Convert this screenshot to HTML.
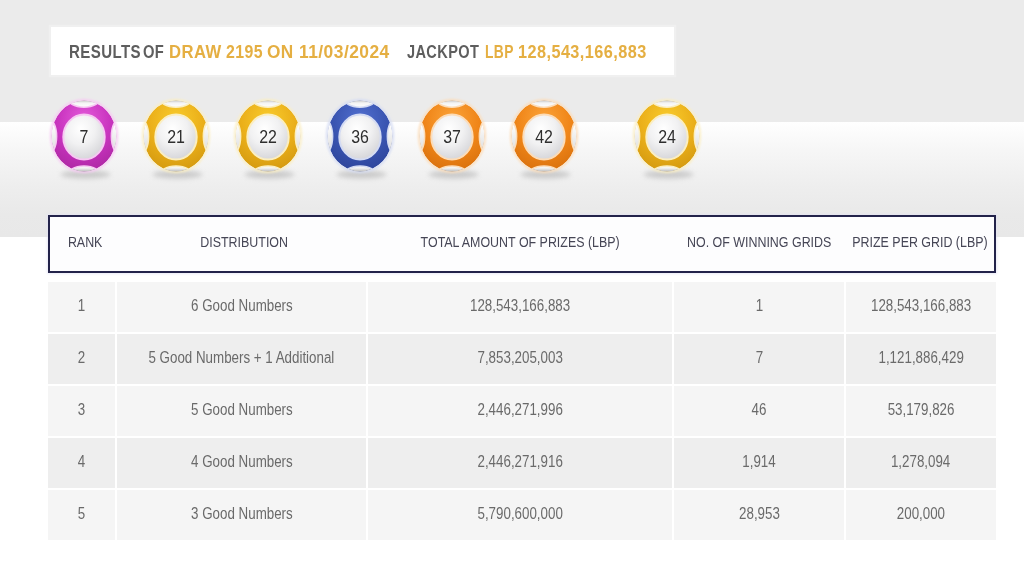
<!DOCTYPE html>
<html>
<head>
<meta charset="utf-8">
<style>
*{margin:0;padding:0;box-sizing:border-box}
html,body{width:1024px;height:576px;overflow:hidden;background:#fff;font-family:"Liberation Sans",Arial,sans-serif}
#top{position:absolute;left:0;top:0;width:1024px;height:122px;background:#ebebeb}
#band{position:absolute;left:0;top:122px;width:1024px;height:115px;background:linear-gradient(#ffffff,#f6f6f6 25%,#eeeeee 55%,#e9e9e9 80%,#e8e8e8)}
#title{position:absolute;left:51px;top:27px;width:623px;height:48px;background:#fff;box-shadow:0 0 1px 2px rgba(244,244,244,0.6)}
.t{position:absolute;top:32px;white-space:nowrap;letter-spacing:0.5px;font-weight:bold;font-size:19px;line-height:40px;transform-origin:0 0}
.g{color:#5e5e5e}
.o{color:#e5af42}
.ball{position:absolute;overflow:visible}
.bn{position:absolute;top:126px;width:40px;text-align:center;font-size:18.5px;line-height:22px;color:#2e2e2e;transform:scaleX(0.86)}
#thead{position:absolute;left:48px;top:215px;width:948px;height:58px;border:2px solid #23234a;background:#fdfdfe;box-shadow:0 0 2px 1px rgba(225,225,245,0.7)}
.hc{position:absolute;top:234px;width:300px;text-align:center;white-space:nowrap;font-size:14.5px;line-height:17px;color:#464656}
.hc span{display:inline-block;transform:scaleX(0.857)}
.cell{position:absolute;height:50px;text-align:center;white-space:nowrap;font-size:16px;line-height:50px;color:#6a6a6a}
.cell span{display:inline-block;position:relative;top:-0.6px;transform:scaleX(0.834)}
.ra{background:#f5f5f5}
.rb{background:#eeeeee}
</style>
</head>
<body>
<div id="top"></div>
<div id="band"></div>
<div id="title"></div>
<span class="t g" style="left:68.61px;transform:scaleX(0.7932)">RESULTS</span><span class="t g" style="left:143.22px;transform:scaleX(0.7760)">OF</span><span class="t o" style="left:169.42px;transform:scaleX(0.8759)">DRAW</span><span class="t o" style="left:225.76px;transform:scaleX(0.8357)">2195</span><span class="t o" style="left:267.09px;transform:scaleX(0.9074)">ON</span><span class="t o" style="left:299.08px;transform:scaleX(0.9163)">11/03/2024</span><span class="t g" style="left:407.00px;transform:scaleX(0.7660)">JACKPOT</span><span class="t o" style="left:484.57px;transform:scaleX(0.7270)">LBP</span><span class="t o" style="left:517.94px;transform:scaleX(0.8568)">128,543,166,883</span>
<svg class="ball" style="left:42.0px;top:93.5px" width="84" height="92" viewBox="-42 -42 84 92">
<defs>
<radialGradient id="g0b" cx="0.5" cy="0.28" r="0.8"><stop offset="0" stop-color="#e45ada"/><stop offset="0.5" stop-color="#c934bf"/><stop offset="1" stop-color="#a8259e"/></radialGradient>
<radialGradient id="g0w" cx="0.42" cy="0.32" r="0.78"><stop offset="0" stop-color="#ffffff"/><stop offset="0.45" stop-color="#f1f1f2"/><stop offset="1" stop-color="#cfcfd3"/></radialGradient>
<linearGradient id="g0ct" gradientUnits="userSpaceOnUse" x1="0" y1="-35.5" x2="0" y2="-28.5"><stop offset="0" stop-color="#c8c8c8"/><stop offset="0.35" stop-color="#f4f4f4"/><stop offset="1" stop-color="#ffffff"/></linearGradient>
<linearGradient id="g0cb" gradientUnits="userSpaceOnUse" x1="0" y1="30" x2="0" y2="35.5"><stop offset="0" stop-color="#ffffff"/><stop offset="0.45" stop-color="#ececec"/><stop offset="1" stop-color="#bdbdbd"/></linearGradient>
<linearGradient id="g0cs" x1="0" y1="0" x2="0" y2="1"><stop offset="0.2" stop-color="#fcfcfc"/><stop offset="0.8" stop-color="#e2e2e2"/></linearGradient>
<clipPath id="g0k"><ellipse cx="0" cy="0" rx="32.5" ry="35.5"/></clipPath>
<filter id="g0f" x="-50%" y="-200%" width="200%" height="500%"><feGaussianBlur stdDeviation="2.4"/></filter>
<filter id="g0h" x="-20%" y="-20%" width="140%" height="140%"><feGaussianBlur stdDeviation="0.8"/></filter>
</defs>
<ellipse cx="1.5" cy="38.5" rx="25" ry="4" fill="#b0b0b0" opacity="0.6" filter="url(#g0f)"/>
<ellipse cx="0" cy="0" rx="33" ry="36" fill="none" stroke="#f7c8f3" stroke-width="2" filter="url(#g0h)"/>
<g clip-path="url(#g0k)">
<ellipse cx="0" cy="0" rx="32.5" ry="35.5" fill="url(#g0b)"/>
<ellipse cx="0" cy="-38.8" rx="17" ry="10" fill="url(#g0ct)" stroke="#f7c8f3" stroke-width="1.6"/>
<ellipse cx="0" cy="40" rx="17" ry="10" fill="url(#g0cb)" stroke="#f7c8f3" stroke-width="1.6"/>
<ellipse cx="-36.5" cy="0.5" rx="9.2" ry="18.5" fill="url(#g0cs)" stroke="#f7c8f3" stroke-width="1.4"/>
<ellipse cx="36.5" cy="0.5" rx="9.2" ry="18.5" fill="url(#g0cs)" stroke="#f7c8f3" stroke-width="1.4"/>
<ellipse cx="0" cy="1.0" rx="20.7" ry="22.5" fill="url(#g0w)" stroke="#f7c8f3" stroke-width="2"/>
</g>
</svg>
<span class="bn" style="left:64.0px">7</span><svg class="ball" style="left:134.3px;top:93.5px" width="84" height="92" viewBox="-42 -42 84 92">
<defs>
<radialGradient id="g1b" cx="0.5" cy="0.28" r="0.8"><stop offset="0" stop-color="#f9cc2c"/><stop offset="0.5" stop-color="#ebb01a"/><stop offset="1" stop-color="#cf950e"/></radialGradient>
<radialGradient id="g1w" cx="0.42" cy="0.32" r="0.78"><stop offset="0" stop-color="#ffffff"/><stop offset="0.45" stop-color="#f1f1f2"/><stop offset="1" stop-color="#cfcfd3"/></radialGradient>
<linearGradient id="g1ct" gradientUnits="userSpaceOnUse" x1="0" y1="-35.5" x2="0" y2="-28.5"><stop offset="0" stop-color="#c8c8c8"/><stop offset="0.35" stop-color="#f4f4f4"/><stop offset="1" stop-color="#ffffff"/></linearGradient>
<linearGradient id="g1cb" gradientUnits="userSpaceOnUse" x1="0" y1="30" x2="0" y2="35.5"><stop offset="0" stop-color="#ffffff"/><stop offset="0.45" stop-color="#ececec"/><stop offset="1" stop-color="#bdbdbd"/></linearGradient>
<linearGradient id="g1cs" x1="0" y1="0" x2="0" y2="1"><stop offset="0.2" stop-color="#fcfcfc"/><stop offset="0.8" stop-color="#e2e2e2"/></linearGradient>
<clipPath id="g1k"><ellipse cx="0" cy="0" rx="32.5" ry="35.5"/></clipPath>
<filter id="g1f" x="-50%" y="-200%" width="200%" height="500%"><feGaussianBlur stdDeviation="2.4"/></filter>
<filter id="g1h" x="-20%" y="-20%" width="140%" height="140%"><feGaussianBlur stdDeviation="0.8"/></filter>
</defs>
<ellipse cx="1.5" cy="38.5" rx="25" ry="4" fill="#b0b0b0" opacity="0.6" filter="url(#g1f)"/>
<ellipse cx="0" cy="0" rx="33" ry="36" fill="none" stroke="#fbeec0" stroke-width="2" filter="url(#g1h)"/>
<g clip-path="url(#g1k)">
<ellipse cx="0" cy="0" rx="32.5" ry="35.5" fill="url(#g1b)"/>
<ellipse cx="0" cy="-38.8" rx="17" ry="10" fill="url(#g1ct)" stroke="#fbeec0" stroke-width="1.6"/>
<ellipse cx="0" cy="40" rx="17" ry="10" fill="url(#g1cb)" stroke="#fbeec0" stroke-width="1.6"/>
<ellipse cx="-36.5" cy="0.5" rx="9.2" ry="18.5" fill="url(#g1cs)" stroke="#fbeec0" stroke-width="1.4"/>
<ellipse cx="36.5" cy="0.5" rx="9.2" ry="18.5" fill="url(#g1cs)" stroke="#fbeec0" stroke-width="1.4"/>
<ellipse cx="0" cy="1.0" rx="20.7" ry="22.5" fill="url(#g1w)" stroke="#fbeec0" stroke-width="2"/>
</g>
</svg>
<span class="bn" style="left:156.3px">21</span><svg class="ball" style="left:225.7px;top:93.5px" width="84" height="92" viewBox="-42 -42 84 92">
<defs>
<radialGradient id="g2b" cx="0.5" cy="0.28" r="0.8"><stop offset="0" stop-color="#f9cc2c"/><stop offset="0.5" stop-color="#ebb01a"/><stop offset="1" stop-color="#cf950e"/></radialGradient>
<radialGradient id="g2w" cx="0.42" cy="0.32" r="0.78"><stop offset="0" stop-color="#ffffff"/><stop offset="0.45" stop-color="#f1f1f2"/><stop offset="1" stop-color="#cfcfd3"/></radialGradient>
<linearGradient id="g2ct" gradientUnits="userSpaceOnUse" x1="0" y1="-35.5" x2="0" y2="-28.5"><stop offset="0" stop-color="#c8c8c8"/><stop offset="0.35" stop-color="#f4f4f4"/><stop offset="1" stop-color="#ffffff"/></linearGradient>
<linearGradient id="g2cb" gradientUnits="userSpaceOnUse" x1="0" y1="30" x2="0" y2="35.5"><stop offset="0" stop-color="#ffffff"/><stop offset="0.45" stop-color="#ececec"/><stop offset="1" stop-color="#bdbdbd"/></linearGradient>
<linearGradient id="g2cs" x1="0" y1="0" x2="0" y2="1"><stop offset="0.2" stop-color="#fcfcfc"/><stop offset="0.8" stop-color="#e2e2e2"/></linearGradient>
<clipPath id="g2k"><ellipse cx="0" cy="0" rx="32.5" ry="35.5"/></clipPath>
<filter id="g2f" x="-50%" y="-200%" width="200%" height="500%"><feGaussianBlur stdDeviation="2.4"/></filter>
<filter id="g2h" x="-20%" y="-20%" width="140%" height="140%"><feGaussianBlur stdDeviation="0.8"/></filter>
</defs>
<ellipse cx="1.5" cy="38.5" rx="25" ry="4" fill="#b0b0b0" opacity="0.6" filter="url(#g2f)"/>
<ellipse cx="0" cy="0" rx="33" ry="36" fill="none" stroke="#fbeec0" stroke-width="2" filter="url(#g2h)"/>
<g clip-path="url(#g2k)">
<ellipse cx="0" cy="0" rx="32.5" ry="35.5" fill="url(#g2b)"/>
<ellipse cx="0" cy="-38.8" rx="17" ry="10" fill="url(#g2ct)" stroke="#fbeec0" stroke-width="1.6"/>
<ellipse cx="0" cy="40" rx="17" ry="10" fill="url(#g2cb)" stroke="#fbeec0" stroke-width="1.6"/>
<ellipse cx="-36.5" cy="0.5" rx="9.2" ry="18.5" fill="url(#g2cs)" stroke="#fbeec0" stroke-width="1.4"/>
<ellipse cx="36.5" cy="0.5" rx="9.2" ry="18.5" fill="url(#g2cs)" stroke="#fbeec0" stroke-width="1.4"/>
<ellipse cx="0" cy="1.0" rx="20.7" ry="22.5" fill="url(#g2w)" stroke="#fbeec0" stroke-width="2"/>
</g>
</svg>
<span class="bn" style="left:247.7px">22</span><svg class="ball" style="left:318.0px;top:93.5px" width="84" height="92" viewBox="-42 -42 84 92">
<defs>
<radialGradient id="g3b" cx="0.5" cy="0.28" r="0.8"><stop offset="0" stop-color="#5270d0"/><stop offset="0.5" stop-color="#3a55b2"/><stop offset="1" stop-color="#2b4196"/></radialGradient>
<radialGradient id="g3w" cx="0.42" cy="0.32" r="0.78"><stop offset="0" stop-color="#ffffff"/><stop offset="0.45" stop-color="#f1f1f2"/><stop offset="1" stop-color="#cfcfd3"/></radialGradient>
<linearGradient id="g3ct" gradientUnits="userSpaceOnUse" x1="0" y1="-35.5" x2="0" y2="-28.5"><stop offset="0" stop-color="#c8c8c8"/><stop offset="0.35" stop-color="#f4f4f4"/><stop offset="1" stop-color="#ffffff"/></linearGradient>
<linearGradient id="g3cb" gradientUnits="userSpaceOnUse" x1="0" y1="30" x2="0" y2="35.5"><stop offset="0" stop-color="#ffffff"/><stop offset="0.45" stop-color="#ececec"/><stop offset="1" stop-color="#bdbdbd"/></linearGradient>
<linearGradient id="g3cs" x1="0" y1="0" x2="0" y2="1"><stop offset="0.2" stop-color="#fcfcfc"/><stop offset="0.8" stop-color="#e2e2e2"/></linearGradient>
<clipPath id="g3k"><ellipse cx="0" cy="0" rx="32.5" ry="35.5"/></clipPath>
<filter id="g3f" x="-50%" y="-200%" width="200%" height="500%"><feGaussianBlur stdDeviation="2.4"/></filter>
<filter id="g3h" x="-20%" y="-20%" width="140%" height="140%"><feGaussianBlur stdDeviation="0.8"/></filter>
</defs>
<ellipse cx="1.5" cy="38.5" rx="25" ry="4" fill="#b0b0b0" opacity="0.6" filter="url(#g3f)"/>
<ellipse cx="0" cy="0" rx="33" ry="36" fill="none" stroke="#d4dbf3" stroke-width="2" filter="url(#g3h)"/>
<g clip-path="url(#g3k)">
<ellipse cx="0" cy="0" rx="32.5" ry="35.5" fill="url(#g3b)"/>
<ellipse cx="0" cy="-38.8" rx="17" ry="10" fill="url(#g3ct)" stroke="#d4dbf3" stroke-width="1.6"/>
<ellipse cx="0" cy="40" rx="17" ry="10" fill="url(#g3cb)" stroke="#d4dbf3" stroke-width="1.6"/>
<ellipse cx="-36.5" cy="0.5" rx="9.2" ry="18.5" fill="url(#g3cs)" stroke="#d4dbf3" stroke-width="1.4"/>
<ellipse cx="36.5" cy="0.5" rx="9.2" ry="18.5" fill="url(#g3cs)" stroke="#d4dbf3" stroke-width="1.4"/>
<ellipse cx="0" cy="1.0" rx="20.7" ry="22.5" fill="url(#g3w)" stroke="#d4dbf3" stroke-width="2"/>
</g>
</svg>
<span class="bn" style="left:340.0px">36</span><svg class="ball" style="left:410.0px;top:93.5px" width="84" height="92" viewBox="-42 -42 84 92">
<defs>
<radialGradient id="g4b" cx="0.5" cy="0.28" r="0.8"><stop offset="0" stop-color="#fba43a"/><stop offset="0.5" stop-color="#f08619"/><stop offset="1" stop-color="#d56d0b"/></radialGradient>
<radialGradient id="g4w" cx="0.42" cy="0.32" r="0.78"><stop offset="0" stop-color="#ffffff"/><stop offset="0.45" stop-color="#f1f1f2"/><stop offset="1" stop-color="#cfcfd3"/></radialGradient>
<linearGradient id="g4ct" gradientUnits="userSpaceOnUse" x1="0" y1="-35.5" x2="0" y2="-28.5"><stop offset="0" stop-color="#c8c8c8"/><stop offset="0.35" stop-color="#f4f4f4"/><stop offset="1" stop-color="#ffffff"/></linearGradient>
<linearGradient id="g4cb" gradientUnits="userSpaceOnUse" x1="0" y1="30" x2="0" y2="35.5"><stop offset="0" stop-color="#ffffff"/><stop offset="0.45" stop-color="#ececec"/><stop offset="1" stop-color="#bdbdbd"/></linearGradient>
<linearGradient id="g4cs" x1="0" y1="0" x2="0" y2="1"><stop offset="0.2" stop-color="#fcfcfc"/><stop offset="0.8" stop-color="#e2e2e2"/></linearGradient>
<clipPath id="g4k"><ellipse cx="0" cy="0" rx="32.5" ry="35.5"/></clipPath>
<filter id="g4f" x="-50%" y="-200%" width="200%" height="500%"><feGaussianBlur stdDeviation="2.4"/></filter>
<filter id="g4h" x="-20%" y="-20%" width="140%" height="140%"><feGaussianBlur stdDeviation="0.8"/></filter>
</defs>
<ellipse cx="1.5" cy="38.5" rx="25" ry="4" fill="#b0b0b0" opacity="0.6" filter="url(#g4f)"/>
<ellipse cx="0" cy="0" rx="33" ry="36" fill="none" stroke="#fcdcb8" stroke-width="2" filter="url(#g4h)"/>
<g clip-path="url(#g4k)">
<ellipse cx="0" cy="0" rx="32.5" ry="35.5" fill="url(#g4b)"/>
<ellipse cx="0" cy="-38.8" rx="17" ry="10" fill="url(#g4ct)" stroke="#fcdcb8" stroke-width="1.6"/>
<ellipse cx="0" cy="40" rx="17" ry="10" fill="url(#g4cb)" stroke="#fcdcb8" stroke-width="1.6"/>
<ellipse cx="-36.5" cy="0.5" rx="9.2" ry="18.5" fill="url(#g4cs)" stroke="#fcdcb8" stroke-width="1.4"/>
<ellipse cx="36.5" cy="0.5" rx="9.2" ry="18.5" fill="url(#g4cs)" stroke="#fcdcb8" stroke-width="1.4"/>
<ellipse cx="0" cy="1.0" rx="20.7" ry="22.5" fill="url(#g4w)" stroke="#fcdcb8" stroke-width="2"/>
</g>
</svg>
<span class="bn" style="left:432.0px">37</span><svg class="ball" style="left:502.0px;top:93.5px" width="84" height="92" viewBox="-42 -42 84 92">
<defs>
<radialGradient id="g5b" cx="0.5" cy="0.28" r="0.8"><stop offset="0" stop-color="#fba43a"/><stop offset="0.5" stop-color="#f08619"/><stop offset="1" stop-color="#d56d0b"/></radialGradient>
<radialGradient id="g5w" cx="0.42" cy="0.32" r="0.78"><stop offset="0" stop-color="#ffffff"/><stop offset="0.45" stop-color="#f1f1f2"/><stop offset="1" stop-color="#cfcfd3"/></radialGradient>
<linearGradient id="g5ct" gradientUnits="userSpaceOnUse" x1="0" y1="-35.5" x2="0" y2="-28.5"><stop offset="0" stop-color="#c8c8c8"/><stop offset="0.35" stop-color="#f4f4f4"/><stop offset="1" stop-color="#ffffff"/></linearGradient>
<linearGradient id="g5cb" gradientUnits="userSpaceOnUse" x1="0" y1="30" x2="0" y2="35.5"><stop offset="0" stop-color="#ffffff"/><stop offset="0.45" stop-color="#ececec"/><stop offset="1" stop-color="#bdbdbd"/></linearGradient>
<linearGradient id="g5cs" x1="0" y1="0" x2="0" y2="1"><stop offset="0.2" stop-color="#fcfcfc"/><stop offset="0.8" stop-color="#e2e2e2"/></linearGradient>
<clipPath id="g5k"><ellipse cx="0" cy="0" rx="32.5" ry="35.5"/></clipPath>
<filter id="g5f" x="-50%" y="-200%" width="200%" height="500%"><feGaussianBlur stdDeviation="2.4"/></filter>
<filter id="g5h" x="-20%" y="-20%" width="140%" height="140%"><feGaussianBlur stdDeviation="0.8"/></filter>
</defs>
<ellipse cx="1.5" cy="38.5" rx="25" ry="4" fill="#b0b0b0" opacity="0.6" filter="url(#g5f)"/>
<ellipse cx="0" cy="0" rx="33" ry="36" fill="none" stroke="#fcdcb8" stroke-width="2" filter="url(#g5h)"/>
<g clip-path="url(#g5k)">
<ellipse cx="0" cy="0" rx="32.5" ry="35.5" fill="url(#g5b)"/>
<ellipse cx="0" cy="-38.8" rx="17" ry="10" fill="url(#g5ct)" stroke="#fcdcb8" stroke-width="1.6"/>
<ellipse cx="0" cy="40" rx="17" ry="10" fill="url(#g5cb)" stroke="#fcdcb8" stroke-width="1.6"/>
<ellipse cx="-36.5" cy="0.5" rx="9.2" ry="18.5" fill="url(#g5cs)" stroke="#fcdcb8" stroke-width="1.4"/>
<ellipse cx="36.5" cy="0.5" rx="9.2" ry="18.5" fill="url(#g5cs)" stroke="#fcdcb8" stroke-width="1.4"/>
<ellipse cx="0" cy="1.0" rx="20.7" ry="22.5" fill="url(#g5w)" stroke="#fcdcb8" stroke-width="2"/>
</g>
</svg>
<span class="bn" style="left:524.0px">42</span><svg class="ball" style="left:624.5px;top:93.5px" width="84" height="92" viewBox="-42 -42 84 92">
<defs>
<radialGradient id="g6b" cx="0.5" cy="0.28" r="0.8"><stop offset="0" stop-color="#f9cc2c"/><stop offset="0.5" stop-color="#ebb01a"/><stop offset="1" stop-color="#cf950e"/></radialGradient>
<radialGradient id="g6w" cx="0.42" cy="0.32" r="0.78"><stop offset="0" stop-color="#ffffff"/><stop offset="0.45" stop-color="#f1f1f2"/><stop offset="1" stop-color="#cfcfd3"/></radialGradient>
<linearGradient id="g6ct" gradientUnits="userSpaceOnUse" x1="0" y1="-35.5" x2="0" y2="-28.5"><stop offset="0" stop-color="#c8c8c8"/><stop offset="0.35" stop-color="#f4f4f4"/><stop offset="1" stop-color="#ffffff"/></linearGradient>
<linearGradient id="g6cb" gradientUnits="userSpaceOnUse" x1="0" y1="30" x2="0" y2="35.5"><stop offset="0" stop-color="#ffffff"/><stop offset="0.45" stop-color="#ececec"/><stop offset="1" stop-color="#bdbdbd"/></linearGradient>
<linearGradient id="g6cs" x1="0" y1="0" x2="0" y2="1"><stop offset="0.2" stop-color="#fcfcfc"/><stop offset="0.8" stop-color="#e2e2e2"/></linearGradient>
<clipPath id="g6k"><ellipse cx="0" cy="0" rx="32.5" ry="35.5"/></clipPath>
<filter id="g6f" x="-50%" y="-200%" width="200%" height="500%"><feGaussianBlur stdDeviation="2.4"/></filter>
<filter id="g6h" x="-20%" y="-20%" width="140%" height="140%"><feGaussianBlur stdDeviation="0.8"/></filter>
</defs>
<ellipse cx="1.5" cy="38.5" rx="25" ry="4" fill="#b0b0b0" opacity="0.6" filter="url(#g6f)"/>
<ellipse cx="0" cy="0" rx="33" ry="36" fill="none" stroke="#fbeec0" stroke-width="2" filter="url(#g6h)"/>
<g clip-path="url(#g6k)">
<ellipse cx="0" cy="0" rx="32.5" ry="35.5" fill="url(#g6b)"/>
<ellipse cx="0" cy="-38.8" rx="17" ry="10" fill="url(#g6ct)" stroke="#fbeec0" stroke-width="1.6"/>
<ellipse cx="0" cy="40" rx="17" ry="10" fill="url(#g6cb)" stroke="#fbeec0" stroke-width="1.6"/>
<ellipse cx="-36.5" cy="0.5" rx="9.2" ry="18.5" fill="url(#g6cs)" stroke="#fbeec0" stroke-width="1.4"/>
<ellipse cx="36.5" cy="0.5" rx="9.2" ry="18.5" fill="url(#g6cs)" stroke="#fbeec0" stroke-width="1.4"/>
<ellipse cx="0" cy="1.0" rx="20.7" ry="22.5" fill="url(#g6w)" stroke="#fbeec0" stroke-width="2"/>
</g>
</svg>
<span class="bn" style="left:646.5px">24</span>
<div id="thead"></div>
<div class="hc" style="left:-65.1px"><span>RANK</span></div><div class="hc" style="left:93.7px"><span>DISTRIBUTION</span></div><div class="hc" style="left:370.6px"><span>TOTAL AMOUNT OF PRIZES (LBP)</span></div><div class="hc" style="left:608.9px"><span>NO. OF WINNING GRIDS</span></div><div class="hc" style="left:769.7px"><span>PRIZE PER GRID (LBP)</span></div>
<div class="cell ra" style="left:48px;top:282px;width:67px"><span>1</span></div><div class="cell ra" style="left:117px;top:282px;width:249px"><span>6 Good Numbers</span></div><div class="cell ra" style="left:368px;top:282px;width:304px"><span>128,543,166,883</span></div><div class="cell ra" style="left:674px;top:282px;width:170px"><span>1</span></div><div class="cell ra" style="left:846px;top:282px;width:150px"><span>128,543,166,883</span></div><div class="cell rb" style="left:48px;top:334px;width:67px"><span>2</span></div><div class="cell rb" style="left:117px;top:334px;width:249px"><span>5 Good Numbers + 1 Additional</span></div><div class="cell rb" style="left:368px;top:334px;width:304px"><span>7,853,205,003</span></div><div class="cell rb" style="left:674px;top:334px;width:170px"><span>7</span></div><div class="cell rb" style="left:846px;top:334px;width:150px"><span>1,121,886,429</span></div><div class="cell ra" style="left:48px;top:386px;width:67px"><span>3</span></div><div class="cell ra" style="left:117px;top:386px;width:249px"><span>5 Good Numbers</span></div><div class="cell ra" style="left:368px;top:386px;width:304px"><span>2,446,271,996</span></div><div class="cell ra" style="left:674px;top:386px;width:170px"><span>46</span></div><div class="cell ra" style="left:846px;top:386px;width:150px"><span>53,179,826</span></div><div class="cell rb" style="left:48px;top:438px;width:67px"><span>4</span></div><div class="cell rb" style="left:117px;top:438px;width:249px"><span>4 Good Numbers</span></div><div class="cell rb" style="left:368px;top:438px;width:304px"><span>2,446,271,916</span></div><div class="cell rb" style="left:674px;top:438px;width:170px"><span>1,914</span></div><div class="cell rb" style="left:846px;top:438px;width:150px"><span>1,278,094</span></div><div class="cell ra" style="left:48px;top:490px;width:67px"><span>5</span></div><div class="cell ra" style="left:117px;top:490px;width:249px"><span>3 Good Numbers</span></div><div class="cell ra" style="left:368px;top:490px;width:304px"><span>5,790,600,000</span></div><div class="cell ra" style="left:674px;top:490px;width:170px"><span>28,953</span></div><div class="cell ra" style="left:846px;top:490px;width:150px"><span>200,000</span></div>
</body>
</html>
